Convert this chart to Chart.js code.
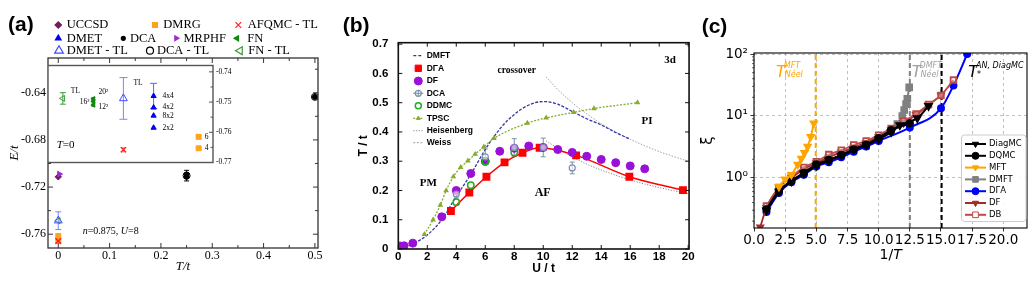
<!DOCTYPE html>
<html>
<head>
<meta charset="utf-8">
<title>Hubbard model: energies, Neel temperature, correlation length</title>
<script src="https://cdn.jsdelivr.net/npm/chart.js@4.4.1/dist/chart.umd.min.js"></script>
<style>
  body { margin: 0; background: #fff; }
  #wrap { position: relative; width: 1030px; height: 290px; overflow: hidden; background: #fff; }
  #wrap canvas { position: absolute; top: 0; }
</style>
</head>
<body>
<div id="wrap">
  <canvas id="chartA" width="340" height="290" style="left:0px"></canvas>
  <canvas id="chartInset" width="195" height="112" style="left:48px;top:58px"></canvas>
  <canvas id="chartB" width="356" height="290" style="left:340px"></canvas>
  <canvas id="chartC" width="335" height="290" style="left:695px"></canvas>
</div>
<script>
/* ---------- DATA (a): E/t vs T/t, n=0.875, U=8 ---------- */
const uccsdT = [0],            uccsdE = [-0.7113];
const mrphfT = [0.002],        mrphfE = [-0.709];
const dmetTlT = [0],           dmetTlE = [-0.7485], dmetTlErr = [0.0075];
const fnTlT = [0],             fnTlE = [-0.7485];
const dmrgT = [0, 0],          dmrgE = [-0.7615, -0.7653];
const afqmcT = [0],            afqmcE = [-0.7658];
const dcaT = [0.25, 0.25, 0.5], dcaE = [-0.7093, -0.7113, -0.6435];
const dcaTlT = [0.25, 0.5],     dcaTlE = [-0.7103, -0.6435], dcaTlErr = [0.0045, 0];
const aXTicks = [0, 0.1, 0.2, 0.3, 0.4, 0.5];
const aXMinor = [0.05, 0.15, 0.25, 0.35, 0.45];
const aYTicks = [-0.76, -0.72, -0.68, -0.64];
const aYMinor = [-0.74, -0.70, -0.66, -0.62];

/* (a) inset, T=0 : x is just a slot */
const inFnTlX = [0.9],   inFnTlE = [-0.7488], inFnTlErr = [0.0019];
const inFnX = [2.75, 2.75, 2.75], inFnE = [-0.7489, -0.7497, -0.7510], inFnErr = [0.0004, 0.0004, 0.0004];
const inFnLab = ['20²', '16²', '12²'];
const inDmetTlX = [4.57], inDmetTlE = [-0.7488], inDmetTlErr = [0.0069];
const inDmetX = [6.4, 6.4, 6.4, 6.4], inDmetE = [-0.748, -0.7518, -0.7545, -0.7585], inDmetErr = [0.0042, 0, 0, 0];
const inDmetLab = ['4x4', '4x2', '8x2', '2x2'];
const inDmrgX = [9.13, 9.13], inDmrgE = [-0.7615, -0.7653], inDmrgErr = [0.0006, 0.0003];
const inDmrgLab = ['6', '4'];
const inAfqmcX = [4.57], inAfqmcE = [-0.7658], inAfqmcErr = [0.0007];
const inYTicks = [-0.77, -0.76, -0.75, -0.74];
const inYMinor = [-0.765, -0.755, -0.745];

/* ---------- DATA (b): T/t vs U/t, 3d ---------- */
const dmftU = [0.2, 1, 2, 3, 4, 5, 6, 7, 8, 9, 10, 11, 12, 13, 14, 15, 16];
const dmftT = [0.008, 0.018, 0.048, 0.1, 0.18, 0.255, 0.34, 0.41, 0.46, 0.492, 0.504, 0.495, 0.47, 0.445, 0.424, 0.398, 0.375];
const dgaU = [3.63, 4.9, 6.08, 7.33, 8.57, 9.75, 12.27, 15.94, 19.64];
const dgaT = [0.13, 0.193, 0.247, 0.296, 0.329, 0.346, 0.32, 0.247, 0.201];
const dfU = [0.15, 0.4, 1, 3, 4, 5, 6, 7, 8, 9, 10, 11, 12, 13, 14, 15, 16, 17];
const dfT = [0.01, 0.011, 0.02, 0.11, 0.2, 0.258, 0.3, 0.334, 0.344, 0.352, 0.347, 0.34, 0.33, 0.317, 0.306, 0.295, 0.284, 0.274];
const dcaU = [4, 6, 8, 10, 12];
const dcaTN = [0.188, 0.315, 0.347, 0.347, 0.277];
const dcaTErr = [0.014, 0.027, 0.03, 0.032, 0.02];
const ddmcU = [4, 5, 6, 8];
const ddmcT = [0.16, 0.218, 0.298, 0.33];
const tpscU = [1.8, 2.4, 2.9, 3.3, 3.8, 4.3, 4.8, 5.3, 5.9, 6.6, 8.9, 10.2, 12.1, 13.5, 16.5];
const tpscT = [0.05, 0.1, 0.15, 0.2, 0.247, 0.279, 0.301, 0.324, 0.349, 0.378, 0.43, 0.448, 0.467, 0.48, 0.5];
const tailU = [10.2, 11, 12, 13, 14, 15, 16, 17, 18, 19, 20];
const weissT = [0.588, 0.545, 0.5, 0.462, 0.428, 0.4, 0.375, 0.353, 0.333, 0.316, 0.3];
const heisT = [0.37, 0.344, 0.315, 0.29, 0.27, 0.252, 0.236, 0.222, 0.21, 0.199, 0.189];
const bXTicks = [0, 2, 4, 6, 8, 10, 12, 14, 16, 18, 20];
const bYTicks = [0, 0.1, 0.2, 0.3, 0.4, 0.5, 0.6, 0.7];

/* ---------- DATA (c): xi vs 1/T ---------- */
const diagmcX = [1, 2, 3, 4, 5, 6, 7, 8, 9, 10, 11, 11.7, 13.1, 14];
const diagmcY = [0.3, 0.6, 0.88, 1.18, 1.58, 1.92, 2.3, 2.85, 3.4, 4.2, 5.5, 7.1, 9.2, 14.5];
const dqmcX = [1, 2, 3, 4, 5, 6, 7, 8, 9, 10, 11, 12.5];
const dqmcY = [0.31, 0.62, 0.9, 1.2, 1.65, 1.95, 2.35, 2.9, 3.45, 4.4, 5.9, 7.6];
const mftX = [2.0, 2.5, 3.0, 3.5, 3.8, 4.05, 4.3, 4.55, 4.8];
const mftY = [0.72, 0.95, 1.12, 1.65, 2.05, 2.55, 3.2, 4.6, 7.6];
const dmftX = [9, 10, 11, 11.5, 11.9, 12.05, 12.2, 12.3, 12.45];
const dmftY = [3.3, 4.3, 5.7, 7.4, 10, 12.5, 15.5, 19, 29];
const dgaX = [1, 2, 3, 4, 5, 6, 7, 8, 9, 10, 12.5, 15, 16, 17.1];
const dgaY = [0.28, 0.57, 0.85, 1.12, 1.52, 1.78, 2.15, 2.65, 3.2, 3.95, 6.5, 13.3, 31, 100];
const dfX = [0.5, 1, 2, 3, 4, 5, 6, 7, 8, 9, 10, 11, 12, 13, 14, 15];
const dfY = [0.16, 0.33, 0.7, 1.0, 1.38, 1.75, 2.15, 2.6, 3.1, 3.7, 4.6, 5.9, 7.7, 10.5, 15, 21.5];
const dbX = [1, 2, 3, 4, 5, 6, 7, 8, 9, 10, 11, 12, 13, 14, 15, 16];
const dbY = [0.35, 0.7, 1.05, 1.47, 1.82, 2.38, 2.8, 3.4, 3.95, 4.9, 6.3, 8.2, 10.8, 15.3, 21.5, 38];
const tNeelMft = 4.95, tNeelDmft = 12.5, tStarAn = 15.05;
const cXTicks = [0, 2.5, 5, 7.5, 10, 12.5, 15, 17.5, 20];
const cYTicks = [1, 10, 100];
const cYMinor = [0.2, 0.3, 0.4, 0.5, 0.6, 0.7, 0.8, 0.9, 2, 3, 4, 5, 6, 7, 8, 9, 20, 30, 40, 50, 60, 70, 80, 90];
const cYMin = 0.155, cYMax = 104;

/* ---------- FONTS / DEFAULTS ---------- */
const SERIF = '"Liberation Serif", "DejaVu Serif", serif';
const SANS = '"Liberation Sans", Arial, sans-serif';
const DJV = '"DejaVu Sans", sans-serif';

Chart.defaults.animation = false;
Chart.defaults.events = [];
Chart.defaults.plugins.legend.display = false;
Chart.defaults.plugins.tooltip.enabled = false;
Chart.defaults.color = '#000';

/* ---------- HELPERS ---------- */
function pts(xs, ys) {
  return xs.map((x, i) => ({ x, y: ys[i] }));
}
function dots(label, xs, ys, st) {
  return Object.assign({
    label, data: pts(xs, ys), showLine: false,
    pointStyle: 'circle', pointRadius: 3, pointBorderWidth: 1,
  }, st);
}
function curve(label, xs, ys, st) {
  return Object.assign({
    label, data: pts(xs, ys), showLine: true, pointRadius: 0,
    borderWidth: 1.2, tension: 0.4, cubicInterpolationMode: 'monotone',
  }, st);
}
function marker(ctx, style, x, y, r, fill, stroke, rot, lw) {
  ctx.save();
  ctx.fillStyle = fill;
  ctx.strokeStyle = stroke;
  ctx.lineWidth = lw || 1;
  Chart.helpers.drawPoint(ctx, { pointStyle: style, radius: r, rotation: rot || 0, borderWidth: lw || 1 }, x, y);
  ctx.restore();
}
function rich(ctx, x, y, parts, size, family, weight) {
  let cx = x;
  parts.forEach(([t, it]) => {
    ctx.font = (it ? 'italic ' : '') + (weight || '') + ' ' + size + 'px ' + family;
    ctx.fillText(t, cx, y);
    cx += ctx.measureText(t).width;
  });
}
function fixTicks(list) {
  return s => { s.ticks = list.map(v => ({ value: v })); };
}
function fmt(v) {
  return String(+v.toFixed(2));
}
const noGrid = { display: false, drawTicks: false };

/* plugins */
function framePlug(color, width) {
  return {
    id: 'frame',
    afterDatasetsDraw(chart) {
      const { ctx, chartArea: a } = chart;
      ctx.save();
      ctx.strokeStyle = color;
      ctx.lineWidth = width;
      ctx.strokeRect(a.left, a.top, a.right - a.left, a.bottom - a.top);
      ctx.restore();
    }
  };
}
function tickPlug(items, color, width) {
  return {
    id: 'ticksIn',
    afterDatasetsDraw(chart) {
      const { ctx, chartArea: a } = chart;
      ctx.save();
      ctx.strokeStyle = color;
      ctx.lineWidth = width;
      ctx.beginPath();
      items.forEach(it => {
        const sc = chart.scales[it.axis];
        it.values.forEach(v => {
          const p = sc.getPixelForValue(v);
          it.sides.forEach(s => {
            const d = it.out ? -it.len : it.len;
            if (s === 'bottom') { ctx.moveTo(p, a.bottom); ctx.lineTo(p, a.bottom - d); }
            if (s === 'top') { ctx.moveTo(p, a.top); ctx.lineTo(p, a.top + d); }
            if (s === 'left') { ctx.moveTo(a.left, p); ctx.lineTo(a.left + d, p); }
            if (s === 'right') { ctx.moveTo(a.right, p); ctx.lineTo(a.right - d, p); }
          });
        });
      });
      ctx.stroke();
      ctx.restore();
    }
  };
}
const errPlug = {
  id: 'errbars',
  beforeDatasetsDraw(chart) {
    const ctx = chart.ctx;
    chart.data.datasets.forEach((ds, i) => {
      if (!ds.errY) return;
      const meta = chart.getDatasetMeta(i);
      const ys = chart.scales[meta.yAxisID];
      ctx.save();
      ctx.strokeStyle = ds.errColor || ds.pointBorderColor;
      ctx.lineWidth = 1;
      meta.data.forEach((pt, j) => {
        const e = ds.errY[j];
        if (!e) return;
        const v = ds.data[j].y;
        const t = ys.getPixelForValue(v + e), b = ys.getPixelForValue(v - e);
        const c = ds.errCap || 3;
        ctx.beginPath();
        ctx.moveTo(pt.x, t); ctx.lineTo(pt.x, b);
        ctx.moveTo(pt.x - c, t); ctx.lineTo(pt.x + c, t);
        ctx.moveTo(pt.x - c, b); ctx.lineTo(pt.x + c, b);
        ctx.stroke();
      });
      ctx.restore();
    });
  }
};
function bgPlug(color) {
  return {
    id: 'bg',
    beforeDraw(chart) {
      const { ctx, chartArea: a } = chart;
      ctx.save();
      ctx.fillStyle = color;
      ctx.fillRect(a.left, a.top, a.right - a.left, a.bottom - a.top);
      ctx.restore();
    }
  };
}
function decoPlug(fn) {
  return { id: 'deco', afterDraw: chart => fn(chart, chart.ctx) };
}

/* ---------- COLOURS ---------- */
const cUccsd = '#701e5c', cDmrg = '#ffa31a', cAfqmc = '#ff2020', cDmet = '#0000ee';
const cMrphf = '#9b2fd4', cFn = '#0c8a0c', cDmetTl = '#3d4dff', cFnTl = '#3c9c3c';

/* ---------- (a) MAIN ---------- */
function decoA(chart, ctx) {
  ctx.save();
  ctx.fillStyle = '#000';
  ctx.textBaseline = 'middle';
  ctx.textAlign = 'left';
  ctx.font = 'bold 21px ' + SANS;
  ctx.fillText('(a)', 8, 25);

  const leg = [
    ['UCCSD', 58.3, 25, 66.7, 'rectRot', 3.2, cUccsd, cUccsd, 0],
    ['DMRG', 155, 25, 163.3, 'rect', 3.5, cDmrg, cDmrg, 0],
    ['AFQMC - TL', 238.3, 25, 247.7, 'crossRot', 4, cAfqmc, cAfqmc, 0],
    ['DMET', 58.3, 38.3, 66.7, 'triangle', 3.3, cDmet, cDmet, 0],
    ['DCA', 123.3, 38.3, 130, 'circle', 2, '#000', '#000', 0],
    ['MRPHF', 176.2, 38.3, 183.5, 'triangle', 2.8, cMrphf, cMrphf, 90],
    ['FN', 237, 38.3, 247.3, 'triangle', 3, cFn, cFn, 270],
    ['DMET - TL', 59, 50.7, 66.7, 'triangle', 5, 'rgba(0,0,0,0)', cDmetTl, 0],
    ['DCA - TL', 150, 50.7, 157, 'circle', 3.5, 'rgba(0,0,0,0)', '#000', 0],
    ['FN - TL', 240, 50.7, 248.3, 'triangle', 4.5, 'rgba(0,0,0,0)', cFnTl, 270],
  ];
  leg.forEach(([t, mx, y, tx, st, r, f, s, rot]) => {
    marker(ctx, st, mx, y, r, f, s, rot, 1.2);
    ctx.fillStyle = '#000';
    ctx.font = '12.5px ' + SERIF;
    ctx.fillText(t, tx, y);
  });
  rich(ctx, 82.7, 231.7, [['n', 1], ['=0.875, ', 0], ['U', 1], ['=8', 0]], 10, SERIF);
  ctx.restore();
}

new Chart(document.getElementById('chartA'), {
  type: 'scatter',
  data: {
    datasets: [
      dots('AFQMC - TL', afqmcT, afqmcE, { pointStyle: 'crossRot', pointRadius: 4, pointBorderWidth: 1.5, pointBorderColor: cAfqmc, order: 1 }),
      dots('DMET - TL', dmetTlT, dmetTlE, { pointStyle: 'triangle', pointRadius: 4.5, pointBorderColor: cDmetTl, pointBackgroundColor: 'rgba(0,0,0,0)', errY: dmetTlErr, errColor: '#7a86ff', order: 2 }),
      dots('FN - TL', fnTlT, fnTlE, { pointStyle: 'triangle', pointRotation: 270, pointRadius: 3.5, pointBorderColor: cFnTl, pointBackgroundColor: 'rgba(0,0,0,0)', order: 3 }),
      dots('DMRG', dmrgT, dmrgE, { pointStyle: 'rect', pointRadius: 3.5, pointBorderColor: cDmrg, pointBackgroundColor: cDmrg, order: 4 }),
      dots('MRPHF', mrphfT, mrphfE, { pointStyle: 'triangle', pointRotation: 90, pointRadius: 3.3, pointBorderColor: cMrphf, pointBackgroundColor: cMrphf, order: 5 }),
      dots('UCCSD', uccsdT, uccsdE, { pointStyle: 'rectRot', pointRadius: 3.2, pointBorderColor: cUccsd, pointBackgroundColor: cUccsd, order: 6 }),
      dots('DCA - TL', dcaTlT, dcaTlE, { pointRadius: 3.5, pointBorderColor: '#000', pointBackgroundColor: 'rgba(0,0,0,0)', errY: dcaTlErr, errCap: 2.5, order: 7 }),
      dots('DCA', dcaT, dcaE, { pointRadius: 2.5, pointBorderColor: '#000', pointBackgroundColor: '#000', order: 8 }),
    ]
  },
  options: {
    responsive: false,
    layout: { padding: { left: 0, right: 22, top: 58, bottom: 0 }, autoPadding: false },
    scales: {
      x: {
        type: 'linear', min: -0.02, max: 0.506,
        afterBuildTicks: fixTicks(aXTicks),
        afterFit: s => { s.height = 42; },
        grid: noGrid, border: { display: false },
        ticks: { padding: 0.5, autoSkip: false, maxRotation: 0, font: { family: SERIF, size: 12 }, callback: fmt },
        title: { display: true, text: 'T/t', font: { family: SERIF, size: 13, style: 'italic' }, padding: { top: 0, bottom: 16 } }
      },
      y: {
        type: 'linear', min: -0.7717, max: -0.6105,
        afterBuildTicks: fixTicks(aYTicks),
        afterFit: s => { s.width = 48; },
        grid: noGrid, border: { display: false },
        ticks: { padding: 2, font: { family: SERIF, size: 12 }, callback: v => v.toFixed(2) },
        title: { display: true, text: 'E/t', font: { family: SERIF, size: 13, style: 'italic' }, padding: { top: 7, bottom: 0 } }
      }
    }
  },
  plugins: [
    errPlug,
    framePlug('#333', 1.3),
    tickPlug([
      { axis: 'x', values: aXTicks, len: 5, sides: ['bottom', 'top'] },
      { axis: 'x', values: aXMinor, len: 3, sides: ['bottom', 'top'] },
      { axis: 'y', values: aYTicks, len: 5, sides: ['left', 'right'] },
      { axis: 'y', values: aYMinor, len: 3, sides: ['left', 'right'] },
    ], '#333', 1),
    decoPlug(decoA)
  ]
});

/* ---------- (a) INSET ---------- */
function decoInset(chart, ctx) {
  const xs = chart.scales.x, ys = chart.scales.y;
  const P = (x, y) => [xs.getPixelForValue(x), ys.getPixelForValue(y)];
  ctx.save();
  ctx.fillStyle = '#000';
  ctx.textBaseline = 'middle';
  ctx.font = '7.5px ' + SERIF;
  ctx.textAlign = 'left';
  let [px, py] = P(inFnTlX[0], inFnTlE[0]);
  ctx.fillText('TL', px + 8, py - 7);
  [px, py] = P(inDmetTlX[0], inDmetTlE[0]);
  ctx.fillText('TL', px + 10, py - 15);
  inDmetLab.forEach((t, i) => {
    const [x, y] = P(inDmetX[i], inDmetE[i]);
    ctx.fillText(t, x + 9, y);
  });
  inDmrgLab.forEach((t, i) => {
    const [x, y] = P(inDmrgX[i], inDmrgE[i]);
    ctx.fillText(t, x + 6, y);
  });
  const fnOff = [[5, -6.5, 'left'], [-4, 0.5, 'right'], [5, 1.5, 'left']];
  inFnLab.forEach((t, i) => {
    const [x, y] = P(inFnX[i], inFnE[i]);
    ctx.textAlign = fnOff[i][2];
    ctx.fillText(t, x + fnOff[i][0], y + fnOff[i][1]);
  });
  ctx.textAlign = 'left';
  rich(ctx, 8.7, 87, [['T', 1], ['=0', 0]], 11, SERIF);
  ctx.restore();
}

new Chart(document.getElementById('chartInset'), {
  type: 'scatter',
  data: {
    datasets: [
      dots('AFQMC - TL', inAfqmcX, inAfqmcE, { pointStyle: 'crossRot', pointRadius: 3.5, pointBorderWidth: 1.3, pointBorderColor: cAfqmc, errY: inAfqmcErr, errColor: '#ff9090', errCap: 3 }),
      dots('DMET - TL', inDmetTlX, inDmetTlE, { pointStyle: 'triangle', pointRadius: 4.5, pointBorderColor: cDmetTl, pointBackgroundColor: 'rgba(0,0,0,0)', errY: inDmetTlErr, errColor: '#7a86ff', errCap: 4 }),
      dots('DMET', inDmetX, inDmetE, { pointStyle: 'triangle', pointRadius: 3, pointBorderColor: cDmet, pointBackgroundColor: cDmet, errY: inDmetErr, errColor: '#5566ff', errCap: 3.5 }),
      dots('FN - TL', inFnTlX, inFnTlE, { pointStyle: 'triangle', pointRotation: 270, pointRadius: 3.5, pointBorderColor: cFnTl, pointBackgroundColor: 'rgba(0,0,0,0)', errY: inFnTlErr, errColor: cFnTl, errCap: 3 }),
      dots('FN', inFnX, inFnE, { pointStyle: 'triangle', pointRotation: 270, pointRadius: 2.5, pointBorderColor: cFn, pointBackgroundColor: cFn, errY: inFnErr, errColor: cFn, errCap: 2 }),
      dots('DMRG', inDmrgX, inDmrgE, { pointStyle: 'rect', pointRadius: 3.5, pointBorderColor: cDmrg, pointBackgroundColor: cDmrg, errY: inDmrgErr, errColor: '#ffd08a', errCap: 3 }),
    ]
  },
  options: {
    responsive: false,
    layout: { padding: { left: 0, right: 0, top: 0, bottom: 6 }, autoPadding: false },
    scales: {
      x: { type: 'linear', min: 0, max: 10, display: false },
      y: {
        type: 'linear', position: 'right', min: -0.77, max: -0.7379,
        afterBuildTicks: fixTicks(inYTicks),
        afterFit: s => { s.width = 30; },
        grid: noGrid, border: { display: false },
        ticks: { padding: 3, font: { family: SERIF, size: 7.5 }, callback: v => v.toFixed(2) }
      }
    }
  },
  plugins: [
    bgPlug('#fff'),
    errPlug,
    framePlug('#555', 1.4),
    tickPlug([
      { axis: 'y', values: inYTicks, len: 4, sides: ['right'] },
      { axis: 'y', values: inYMinor, len: 2.5, sides: ['right'] },
    ], '#555', 1),
    decoPlug(decoInset)
  ]
});

/* ---------- (b) ---------- */
const cDmftB = '#3434a8', cDgaB = '#ff0000', cDfB = '#9a10d8', cDcaB = '#7d90aa', cDdmc = '#1fae1f', cTpsc = '#86ac2c', cHeis = '#8a8a8a', cWeiss = '#a0a0a0';

function decoB(chart, ctx) {
  ctx.save();
  ctx.fillStyle = '#000';
  ctx.textBaseline = 'middle';
  ctx.textAlign = 'left';
  ctx.font = 'bold 21px ' + SANS;
  ctx.fillText('(b)', 2.7, 26);

  ctx.textAlign = 'center';
  ctx.font = 'bold 9.5px ' + SERIF;
  ctx.fillText('crossover', 176.7, 71);
  ctx.font = 'bold 11px ' + SERIF;
  ctx.fillText('3d', 330, 60);
  ctx.fillText('PI', 307, 121);
  ctx.fillText('PM', 88.3, 183.3);
  ctx.font = 'bold 12px ' + SERIF;
  ctx.fillText('AF', 202.7, 193.3);

  // legend
  const x0 = 73.3, x1 = 83.3, xm = 78.3, tx = 86.7;
  const rows = [55.7, 68.3, 81, 93.3, 105.7, 118.3, 130.7, 142.7];
  const line = (y, color, dash, w) => {
    ctx.save();
    ctx.strokeStyle = color; ctx.lineWidth = w; ctx.setLineDash(dash);
    ctx.beginPath(); ctx.moveTo(x0, y); ctx.lineTo(x1, y); ctx.stroke();
    ctx.restore();
  };
  line(rows[0], cDmftB, [3, 2], 1.3);
  marker(ctx, 'rect', xm, rows[1], 4.5, cDgaB, cDgaB, 0, 1);
  marker(ctx, 'circle', xm, rows[2], 4, cDfB, cDfB, 0, 1);
  line(rows[3], cDcaB, [], 1.2);
  marker(ctx, 'circle', xm, rows[3], 3, '#fff', cDcaB, 0, 1.2);
  marker(ctx, 'cross', xm, rows[3], 3, cDcaB, cDcaB, 0, 1);
  marker(ctx, 'circle', xm, rows[4], 3, 'rgba(0,0,0,0)', cDdmc, 0, 1.5);
  line(rows[5], cTpsc, [2, 1.5], 1.2);
  marker(ctx, 'triangle', xm, rows[5], 2.2, cTpsc, cTpsc, 0, 1);
  line(rows[6], cHeis, [1.2, 1.5], 1);
  line(rows[7], cWeiss, [2, 1.5], 1);
  ctx.textAlign = 'left';
  ctx.font = 'bold 8.5px ' + SANS;
  ['DMFT', 'DΓA', 'DF', 'DCA', 'DDMC', 'TPSC', 'Heisenberg', 'Weiss'].forEach((t, i) => ctx.fillText(t, tx, rows[i]));
  ctx.restore();
}

new Chart(document.getElementById('chartB'), {
  type: 'scatter',
  data: {
    datasets: [
      dots('DCA', dcaU, dcaTN, { pointRadius: 3, pointBorderWidth: 1.2, pointBorderColor: cDcaB, pointBackgroundColor: 'rgba(255,255,255,0.6)', errY: dcaTErr, errColor: cDcaB, errCap: 2.5, order: 1 }),
      dots('DDMC', ddmcU, ddmcT, { pointRadius: 3.2, pointBorderWidth: 1.5, pointBorderColor: cDdmc, pointBackgroundColor: 'rgba(0,0,0,0)', order: 2 }),
      dots('DF', dfU, dfT, { pointRadius: 4, pointBorderColor: cDfB, pointBackgroundColor: cDfB, order: 3 }),
      curve('DΓA', dgaU, dgaT, { borderColor: cDgaB, borderWidth: 1.5, pointRadius: 4.5, pointStyle: 'rect', pointBorderColor: cDgaB, pointBackgroundColor: cDgaB, order: 4 }),
      curve('TPSC', tpscU, tpscT, { borderColor: cTpsc, borderWidth: 1.3, borderDash: [2, 1.5], pointRadius: 2, pointStyle: 'triangle', pointBorderColor: cTpsc, pointBackgroundColor: cTpsc, order: 5 }),
      curve('DMFT', dmftU, dmftT, { borderColor: cDmftB, borderWidth: 1.3, borderDash: [3, 1.5], order: 6 }),
      curve('Heisenberg', tailU, heisT, { borderColor: cHeis, borderWidth: 1, borderDash: [1.2, 1.5], order: 7 }),
      curve('Weiss', tailU, weissT, { borderColor: cWeiss, borderWidth: 1, borderDash: [1.5, 1.5], order: 8 }),
    ]
  },
  options: {
    responsive: false,
    layout: { padding: { left: 0, right: 2.5, top: 42.7, bottom: 0 }, autoPadding: false },
    scales: {
      x: {
        type: 'linear', min: 0, max: 20.06,
        afterBuildTicks: fixTicks(bXTicks),
        afterFit: s => { s.height = 41; },
        grid: noGrid, border: { display: false },
        ticks: { padding: 1.4, autoSkip: false, maxRotation: 0, font: { family: SANS, size: 11.5, weight: 'bold' }, callback: fmt },
        title: { display: true, text: 'U / t', font: { family: SANS, size: 12, weight: 'bold' }, padding: { top: 0, bottom: 14.5 } }
      },
      y: {
        type: 'linear', min: 0, max: 0.705,
        afterBuildTicks: fixTicks(bYTicks),
        afterFit: s => { s.width = 58.3; },
        grid: noGrid, border: { display: false },
        ticks: { padding: 10, font: { family: SANS, size: 11.5, weight: 'bold' }, callback: fmt },
        title: { display: true, text: 'T / t', font: { family: SANS, size: 12, weight: 'bold' }, padding: { top: 16, bottom: 0 } }
      }
    }
  },
  plugins: [
    errPlug,
    framePlug('#111', 1.6),
    tickPlug([
      { axis: 'x', values: bXTicks, len: 4, sides: ['bottom', 'top'] },
      { axis: 'y', values: bYTicks, len: 4, sides: ['left', 'right'] },
    ], '#111', 1),
    decoPlug(decoB)
  ]
});

/* ---------- (c) ---------- */
const cDiag = '#000', cMft = '#ffa500', cDmftC = '#808080', cDgaC = '#0000ff', cDfC = '#a52a2a', cDbC = '#bb4a4a';

function tLabel(ctx, x, base, sup, sub, color) {
  ctx.fillStyle = color;
  ctx.textBaseline = 'alphabetic';
  ctx.textAlign = 'left';
  ctx.font = 'italic 16px ' + DJV;
  ctx.fillText('T', x, base);
  const w = ctx.measureText('T').width;
  ctx.font = 'italic 8px ' + DJV;
  ctx.fillText(sup, x + w - 2, base - 9);
  ctx.fillText(sub, x + w - 1, base + 0.5);
}

function decoC(chart, ctx) {
  ctx.save();
  ctx.fillStyle = '#000';
  ctx.textBaseline = 'middle';
  ctx.textAlign = 'left';
  ctx.font = 'bold 21px ' + SANS;
  ctx.fillText('(c)', 6.7, 27);

  tLabel(ctx, 81, 76.7, 'MFT', 'Néel', cMft);
  tLabel(ctx, 216.7, 76.7, 'DMFT', 'Néel', '#a0a0a0');
  tLabel(ctx, 273.3, 76.7, 'AN, DiagMC', '*', '#000');

  // x title 1/T
  ctx.fillStyle = '#000';
  ctx.textBaseline = 'middle';
  ctx.font = '14px ' + DJV;
  const w1 = ctx.measureText('1/').width;
  ctx.font = 'italic 14px ' + DJV;
  const w2 = ctx.measureText('T').width;
  rich(ctx, 195.7 - (w1 + w2) / 2, 255, [['1/', 0], ['T', 1]], 14, DJV);

  // legend
  ctx.fillStyle = 'rgba(255,255,255,0.85)';
  ctx.strokeStyle = '#cccccc';
  ctx.lineWidth = 1;
  ctx.beginPath();
  ctx.roundRect(266.5, 135, 64.5, 86.5, 3);
  ctx.fill();
  ctx.stroke();
  const leg = [
    ['DiagMC', cDiag, 'triangle', 180, false],
    ['DQMC', cDiag, 'circle', 0, false],
    ['MFT', cMft, 'triangle', 180, false],
    ['DMFT', cDmftC, 'rect', 0, false],
    ['DΓA', cDgaC, 'circle', 0, false],
    ['DF', cDfC, 'triangle', 180, false],
    ['DB', cDbC, 'rect', 0, true],
  ];
  leg.forEach(([t, col, st, rot, open], i) => {
    const y = 144 + i * 11.8;
    ctx.save();
    ctx.strokeStyle = col; ctx.lineWidth = 2;
    ctx.beginPath(); ctx.moveTo(270, y); ctx.lineTo(291, y); ctx.stroke();
    ctx.restore();
    marker(ctx, st, 280.5, y, st === 'rect' ? 4 : 3.5, open ? '#fff' : col, col, rot, 1);
    ctx.fillStyle = '#000';
    ctx.font = '8.5px ' + DJV;
    ctx.fillText(t, 294, y);
  });
  ctx.restore();
}

function vline(label, x, color) {
  return {
    label, data: [{ x, y: cYMin }, { x, y: cYMax }], showLine: true, pointRadius: 0,
    borderColor: color, borderWidth: 2, borderDash: [5, 3], order: 20
  };
}

const gridC = { color: '#b0b0b0', lineWidth: 0.8, tickColor: '#000', tickLength: 3.5, tickWidth: 0.8 };

new Chart(document.getElementById('chartC'), {
  type: 'scatter',
  data: {
    datasets: [
      vline('T Neel MFT', tNeelMft, cMft),
      vline('T Neel DMFT', tNeelDmft, cDmftC),
      vline('T* AN DiagMC', tStarAn, '#000'),
      curve('MFT', mftX, mftY, { tension: 0, borderColor: cMft, borderWidth: 2, pointRadius: 3.5, pointStyle: 'triangle', pointRotation: 180, pointBorderColor: cMft, pointBackgroundColor: cMft, order: 1 }),
      curve('DQMC', dqmcX, dqmcY, { tension: 0, borderColor: cDiag, borderWidth: 2.2, pointRadius: 3, pointBorderColor: cDiag, pointBackgroundColor: cDiag, order: 2 }),
      curve('DiagMC', diagmcX, diagmcY, { tension: 0, borderColor: cDiag, borderWidth: 2.2, pointRadius: 3.5, pointStyle: 'triangle', pointRotation: 180, pointBorderColor: cDiag, pointBackgroundColor: cDiag, order: 3 }),
      curve('DB', dbX, dbY, { tension: 0, borderColor: cDbC, borderWidth: 1.8, pointRadius: 4, pointStyle: 'rect', pointBorderColor: cDbC, pointBackgroundColor: 'rgba(255,255,255,0.3)', order: 4 }),
      curve('DF', dfX, dfY, { tension: 0, borderColor: cDfC, borderWidth: 1.8, pointRadius: 3.5, pointStyle: 'triangle', pointRotation: 180, pointBorderColor: cDfC, pointBackgroundColor: cDfC, order: 5 }),
      curve('DΓA', dgaX, dgaY, { tension: 0, borderColor: cDgaC, borderWidth: 2, pointRadius: 3, pointBorderColor: cDgaC, pointBackgroundColor: cDgaC, order: 6 }),
      curve('DMFT', dmftX, dmftY, { tension: 0, borderColor: cDmftC, borderWidth: 2, pointRadius: 4, pointStyle: 'rect', pointBorderColor: cDmftC, pointBackgroundColor: cDmftC, order: 7 }),
    ]
  },
  options: {
    responsive: false,
    layout: { padding: { left: 0, right: 3, top: 53, bottom: 0 }, autoPadding: false },
    scales: {
      x: {
        type: 'linear', min: 0, max: 21.9,
        afterBuildTicks: fixTicks(cXTicks),
        afterFit: s => { s.height = 62; },
        grid: gridC,
        border: { display: false, dash: [3, 3] },
        ticks: { padding: 0.6, autoSkip: false, maxRotation: 0, font: { family: DJV, size: 13.5 }, callback: v => v.toFixed(1) }
      },
      y: {
        type: 'logarithmic', min: cYMin, max: cYMax,
        afterBuildTicks: fixTicks(cYTicks),
        afterFit: s => { s.width = 59; },
        grid: gridC,
        border: { display: false, dash: [3, 3] },
        ticks: { padding: 2.5, font: { family: DJV, size: 13.5 }, callback: v => ({ 1: '10⁰', 10: '10¹', 100: '10²' })[v] },
        title: { display: true, text: 'ξ', font: { family: DJV, size: 15 }, padding: { top: 4, bottom: 0 } }
      }
    }
  },
  plugins: [
    framePlug('#000', 1.1),
    tickPlug([
      { axis: 'y', values: cYMinor, len: 2, out: true, sides: ['left'] },
    ], '#000', 0.6),
    decoPlug(decoC)
  ]
});
</script>
</body>
</html>
